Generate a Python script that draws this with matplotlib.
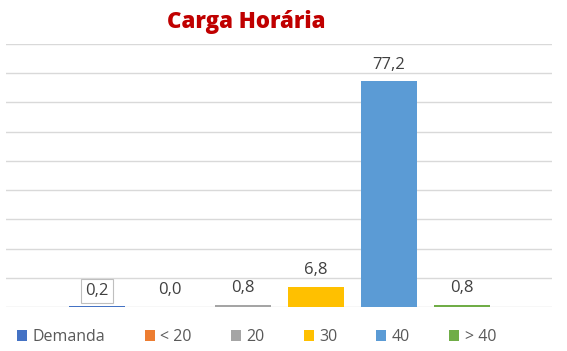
import matplotlib

matplotlib.use("Agg")
import matplotlib.pyplot as plt
from matplotlib.patches import Patch

categories = ["Demanda", "< 20", "20", "30", "40", "> 40"]
values = [0.2, 0.0, 0.8, 6.8, 77.2, 0.8]
labels = ["0,2", "0,0", "0,8", "6,8", "77,2", "0,8"]
colors = ["#4472C4", "#ED7D31", "#A5A5A5", "#FFC000", "#5B9BD5", "#70AD47"]

plt.rcParams["font.family"] = ["Open Sans", "DejaVu Sans"]

fig = plt.figure(figsize=(5.67, 3.51), dpi=100)
ax = fig.add_axes([6 / 567, 1 - 307 / 351, 546 / 567, 263 / 351])

xs = list(range(len(categories)))
ax.bar(xs, values, width=0.78, color=colors, zorder=3)

for x, v, lab in zip(xs, values, labels):
    if x == 0:
        ax.text(x, v + 2.6, lab, ha="center", va="bottom", fontsize=12, color="#404040",
                bbox=dict(boxstyle="square,pad=0.25", fc="white", ec="#BFBFBF", lw=0.8), zorder=4)
    else:
        ax.text(x, v + 3.0, lab, ha="center", va="bottom", fontsize=12, color="#404040", zorder=4)

ax.set_ylim(0, 90)
ax.set_xlim(-1.247, 6.233)
ax.set_yticks(range(0, 91, 10))
ax.yaxis.grid(True, color="#D9D9D9", lw=1, zorder=0)
ax.tick_params(left=False, bottom=False, labelleft=False, labelbottom=False)
for s in ax.spines.values():
    s.set_visible(False)

fig.text(246 / 567, 1 - 22 / 351, "Carga Horária", ha="center", va="center",
         fontsize=16, fontweight=800, color="#C00000", family=["Open Sans", "DejaVu Sans"])

handles = [Patch(facecolor=c, edgecolor="none") for c in colors]
fig.legend(handles, categories, loc="center", bbox_to_anchor=(0.453, 1 - 337 / 351), ncol=6,
           frameon=False, fontsize=11.5, labelcolor="#595959", handlelength=0.62, handleheight=0.62,
           handletextpad=0.35, columnspacing=2.45)

fig.savefig("out.png", dpi=100)
